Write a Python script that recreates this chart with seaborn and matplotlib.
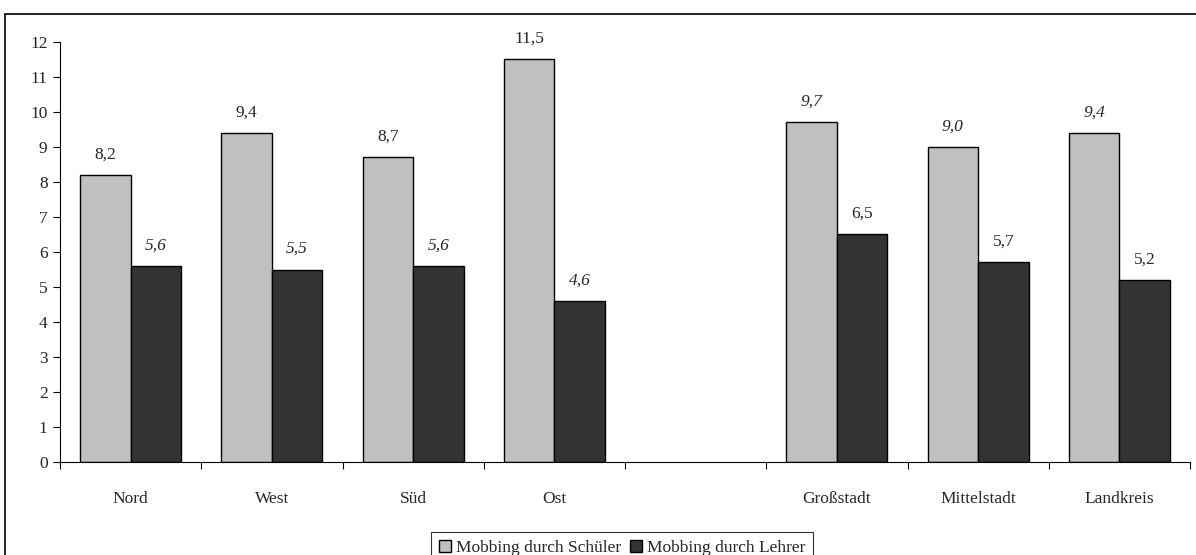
import pandas as pd
import matplotlib
matplotlib.use("Agg")
import matplotlib.pyplot as plt
import seaborn as sns
from matplotlib.patches import Rectangle

# data
kategorien = ["Nord", "West", "Süd", "Ost", " ", "Großstadt", "Mittelstadt", "Landkreis"]
gruppen = ["Mobbing durch Schüler", "Mobbing durch Lehrer"]
schueler = [8.2, 9.4, 8.7, 11.5, None, 9.7, 9.0, 9.4]
lehrer = [5.6, 5.5, 5.6, 4.6, None, 6.5, 5.7, 5.2]
y_ticks = list(range(0, 13))

rows = []
for kat, s, l in zip(kategorien, schueler, lehrer):
    if s is not None:
        rows.append({"kategorie": kat, "gruppe": gruppen[0], "wert": s})
        rows.append({"kategorie": kat, "gruppe": gruppen[1], "wert": l})
df = pd.DataFrame(rows)

sns.set_style("ticks")
plt.rcParams["font.family"] = ["Liberation Serif", "DejaVu Serif"]
fs = 12.5

fig = plt.figure(figsize=(11.96, 5.55), dpi=100)
ax = fig.add_axes([60 / 1196, 93 / 555, 1130 / 1196, 420 / 555])

sns.barplot(data=df, x="kategorie", y="wert", hue="gruppe", order=kategorien,
            hue_order=gruppen, palette=["#c0c0c0", "#333333"], edgecolor="black",
            linewidth=1, width=0.716, ax=ax, errorbar=None)

# value labels: regions -> teacher values italic, city types -> student values italic
for i, cont in enumerate(ax.containers):
    for bar in cont:
        h = bar.get_height()
        if h != h or h == 0:
            continue
        xc = bar.get_x() + bar.get_width() / 2
        region = xc < 3.5
        italic = (i == 1) if region else (i == 0)
        ax.annotate(f"{h:.1f}".replace(".", ","), (xc, h), xytext=(0, 15),
                    textcoords="offset points", ha="center", va="center",
                    fontsize=fs, style="italic" if italic else "normal")

ax.set_xlim(-0.5, 7.5)
ax.set_ylim(0, 12)
ax.set_yticks(y_ticks)
ax.set_xticks(range(len(kategorien)))
ax.set_xticklabels(kategorien)
ax.set_xticks([k - 0.5 for k in range(len(kategorien) + 1)], minor=True)
ax.tick_params(axis="x", which="major", length=0, pad=21, labelsize=fs)
ax.tick_params(axis="x", which="minor", length=5, width=0.8, color="black")
ax.tick_params(axis="y", length=5, width=0.8, pad=4, labelsize=fs, color="black")
ax.set_xlabel("")
ax.set_ylabel("")
for side in ["top", "right"]:
    ax.spines[side].set_visible(False)
for side in ["left", "bottom"]:
    ax.spines[side].set_color("black")
    ax.spines[side].set_linewidth(0.8)

handles, labels = ax.get_legend_handles_labels()
ax.get_legend().remove()
leg = fig.legend(handles, labels, loc="upper center", bbox_to_anchor=(622 / 1196, 23 / 555),
                 ncol=2, frameon=True, fancybox=False, edgecolor="black", fontsize=fs,
                 handlelength=0.7, handleheight=0.7, handletextpad=0.3,
                 columnspacing=0.5, borderpad=0.45, borderaxespad=0)
leg.get_frame().set_linewidth(0.8)

# outer chart frame, cut off at the right and bottom like the reference
fig.patches.append(Rectangle((5 / 1196, -0.2), 1.2, 1.2 - 14 / 555, transform=fig.transFigure,
                             fill=False, edgecolor="black", linewidth=1.2))

fig.savefig("out.png", dpi=100)
